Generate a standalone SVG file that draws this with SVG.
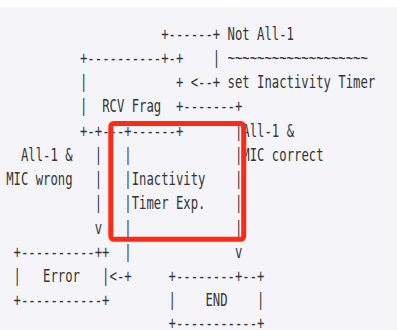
<svg xmlns="http://www.w3.org/2000/svg" width="397" height="330" viewBox="0 0 397 330" xml:space="preserve">
<style>
text { font-family: "DejaVu Sans Mono", "Liberation Mono", monospace; font-size: 17px; fill: #353535; white-space: pre; }
.hl { fill: none; stroke: #fe2a12; stroke-width: 5; }
</style>
<rect x="0" y="0" width="397" height="330" fill="#ffffff"/>
<rect x="0" y="7" width="397" height="323" fill="#f4f4f9"/>
<g transform="translate(6.2,0) scale(0.7211,1)">
  <g id="node-rcv-frag">
    <text x="102.35" y="63.95">+----------+-+</text>
    <text x="102.35" y="88.2">|</text>
    <text x="235.40" y="88.2">+</text>
    <text x="102.35" y="112.45">|  RCV Frag  +</text>
    <text x="102.35" y="136.7">+-+---+------+</text>
  </g>
  <g id="node-error">
    <text x="10.235" y="257.95">+----------++</text>
    <text x="10.235" y="282.2">|   Error   |</text>
    <text x="10.235" y="306.45">+-----------+</text>
  </g>
  <g id="node-end">
    <text x="225.17" y="282.2">+--------+--+</text>
    <text x="225.17" y="306.45">|    END    |</text>
    <text x="225.17" y="329.4">+-----------+</text>
  </g>
  <g id="connectors">
    <text x="214.93" y="39.7">+------+</text>
    <text x="286.58" y="63.95">|</text>
    <text x="255.87" y="88.2">&lt;--+</text>
    <text x="245.64" y="112.45">-------+</text>
    <text x="317.28" y="136.7">|</text>
    <text x="317.28" y="160.95">|</text>
    <text x="317.28" y="185.2">|</text>
    <text x="317.28" y="209.45">|</text>
    <text x="317.28" y="233.7">|</text>
    <text x="317.28" y="257.95">v</text>
    <text x="122.82" y="160.95">|</text>
    <text x="122.82" y="185.2">|</text>
    <text x="122.82" y="209.45">|</text>
    <text x="122.82" y="233.7">v</text>
    <text x="163.76" y="160.95">|</text>
    <text x="163.76" y="185.2">|</text>
    <text x="163.76" y="209.45">|</text>
    <text x="163.76" y="233.7">|</text>
    <text x="163.76" y="257.95">|</text>
    <text x="143.29" y="282.2">&lt;-+</text>
  </g>
  <g id="labels">
    <text x="307.05" y="39.7">Not All-1</text>
    <text x="307.05" y="63.95">~~~~~~~~~~~~~~~~~~~</text>
    <text x="307.05" y="88.2">set Inactivity Timer</text>
    <text x="327.52" y="136.7">All-1 &amp;</text>
    <text x="327.52" y="160.95">MIC correct</text>
    <text x="20.47" y="160.95">All-1 &amp;</text>
    <text x="0" y="185.2">MIC wrong</text>
    <text x="174.0" y="185.2">Inactivity</text>
    <text x="174.0" y="209.45">Timer Exp.</text>
  </g>
</g>
<rect class="hl" x="110.8" y="123.5" width="132.9" height="115.8" rx="3"/>
</svg>
